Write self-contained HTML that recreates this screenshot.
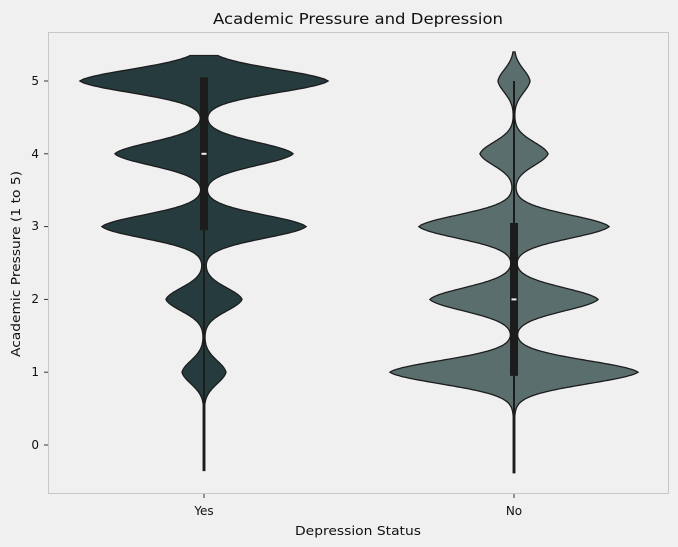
<!DOCTYPE html>
<html><head><meta charset="utf-8"><style>
body{margin:0;background:#f0f0f0;}
svg{display:block;font-family:"DejaVu Sans","Liberation Sans",sans-serif;}
</style></head><body>
<svg id="s" width="678" height="547" viewBox="0 0 678 547">
<rect width="678" height="547" fill="#f0f0f0"/>
<rect x="48.5" y="32.5" width="620" height="461" fill="#f0f0f0" stroke="#c8c8c8" stroke-width="1"/>
<g id="v"></g>
<text x="358" y="24" text-anchor="middle" font-size="15" textLength="290" lengthAdjust="spacingAndGlyphs" fill="#111">Academic Pressure and Depression</text>
<g font-size="12" fill="#111" text-anchor="end">
<text x="39" y="449">0</text><text x="39" y="376">1</text><text x="39" y="303">2</text>
<text x="39" y="230">3</text><text x="39" y="158">4</text><text x="39" y="85">5</text>
</g>
<g stroke="#333" stroke-width="1">
<line x1="44" x2="48" y1="445" y2="445"/><line x1="44" x2="48" y1="372.2" y2="372.2"/>
<line x1="44" x2="48" y1="299.4" y2="299.4"/><line x1="44" x2="48" y1="226.6" y2="226.6"/>
<line x1="44" x2="48" y1="153.8" y2="153.8"/><line x1="44" x2="48" y1="81" y2="81"/>
<line x1="204" x2="204" y1="494" y2="498"/><line x1="514" x2="514" y1="494" y2="498"/>
</g>
<g font-size="12" fill="#111" text-anchor="middle">
<text x="204" y="515">Yes</text><text x="514" y="515">No</text>
<text x="358" y="535" textLength="126" lengthAdjust="spacingAndGlyphs">Depression Status</text>
<text transform="translate(20,264) rotate(-90)" textLength="186" lengthAdjust="spacingAndGlyphs">Academic Pressure (1 to 5)</text>
</g>
</svg>
<script>
function Y(v){return 445-72.8*v;}
function violin(cx,w,top,bot,fill,sig){
  var L=[],R=[];
  for(var v=top;v>=bot-1e-9;v-=0.01){
    var h=0;for(var k=0;k<w.length;k++){var d=Math.abs(v-k);h+=w[k]*(0.85*Math.exp(-d*d/(2*sig*sig))+0.15*Math.exp(-d/0.18));}
    h=Math.max(h,0.8);
    R.push((cx+h).toFixed(1)+","+Y(v).toFixed(1));
    L.unshift((cx-h).toFixed(1)+","+Y(v).toFixed(1));
  }
  return '<path d="M'+R.join(" L")+" L"+L.join(" L")+' Z" fill="'+fill+'" stroke="#1c1c1c" stroke-width="1.3"/>';
}
var g=document.getElementById("v");
var h="";
h+=violin(204,[0,22,38,102,89,124],5.35,-0.35,"#263b3e",0.165);
h+=violin(514,[0,124,84,95,34,16],5.4,-0.38,"#5a6e6e",0.165);
h+='<line x1="204" x2="204" y1="'+Y(5)+'" y2="'+Y(-0.35)+'" stroke="#1c1c1c" stroke-width="2"/>';
h+='<rect x="200" y="'+Y(5.05)+'" width="8" height="'+(Y(2.95)-Y(5.05))+'" fill="#1c1c1c"/>';
h+='<rect x="201.5" y="'+(Y(4)-1)+'" width="5" height="2" fill="#f0f0f0"/>';
h+='<line x1="514" x2="514" y1="'+Y(5)+'" y2="'+Y(-0.38)+'" stroke="#1c1c1c" stroke-width="2"/>';
h+='<rect x="510" y="'+Y(3.05)+'" width="8" height="'+(Y(0.95)-Y(3.05))+'" fill="#1c1c1c"/>';
h+='<rect x="511.5" y="'+(Y(2)-1)+'" width="5" height="2" fill="#f0f0f0"/>';
g.innerHTML=h;
</script>
</body></html>
